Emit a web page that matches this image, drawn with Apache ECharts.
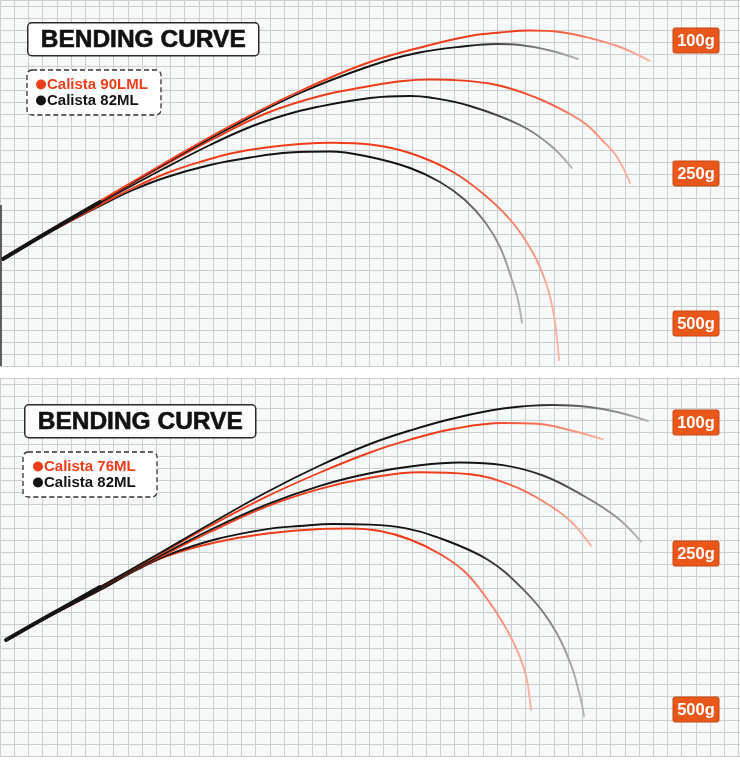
<!DOCTYPE html>
<html><head><meta charset="utf-8">
<script src="https://cdn.jsdelivr.net/npm/echarts@6/dist/echarts.min.js"></script>
<style>html,body{margin:0;padding:0;background:#fff}#c{width:740px;height:766px}</style>
</head><body><div id="c"></div><script>
// Units: horizontal distance / height (px-scale units of the grid paper)
// ---- Top panel: Calista 90LML (red) vs Calista 82ML (black)
const top90_100 = [[3,108],[50,136],[100,165],[163,202],[230,240],[300,275],[370,304],[430,321],[470,330],[500,333.5],[530,335.5],[560,334],[590,328],[620,319],[650,305]];
const top82_100 = [[3,107],[50,135],[100,164],[163,201],[230,238],[300,273],[370,300],[417,313],[467,320],[497,322],[520,321],[550,315.5],[578,307]];
const top90_250 = [[3,107],[50,135],[100,164],[163,200],[215,228],[267,253],[320,270],[370,280],[403,285],[430,286.5],[453,286],[497,281],[537,268],[570,252],[587,241],[602,226],[617,209],[630,183]];
const top82_250 = [[3,107],[50,135],[100,163],[163,197],[210,221],[250,239],[285,251],[317,259],[370,268],[410,270],[430,268.5],[470,260],[520,241],[550,221],[572,198]];
const top90_500 = [[3,107],[50,134],[100,161],[133,178],[167,193],[200,204],[233,213],[266,218.5],[300,222],[333,223.3],[370,221.5],[410,213],[453,194],[487,169],[513,143],[533,113],[545,86],[552,61],[556,36],[559,6]];
const top82_500 = [[3,107],[50,134],[100,160],[133,176],[167,189],[210,201],[250,208.5],[290,213.5],[330,214.5],[370,209],[410,198],[440,184],[465,166],[485,144],[500,119],[512,86],[518,66],[522,43]];
// ---- Bottom panel: Calista 76ML (red) vs Calista 82ML (black)
const bot82_100 = [[6,116],[50,141],[100,169],[160,203],[210,232],[267,264],[320,290.5],[370,312],[410,325.5],[453,337.5],[503,347.5],[553,351],[587,349.3],[617,344],[648,335]];
const bot76_100 = [[6,116],[50,141],[100,169],[160,202],[210,230],[267,259.6],[320,283.5],[370,303.5],[410,316.3],[453,327],[503,333],[537,332.3],[573,325],[603,316.6]];
const bot82_250 = [[6,116],[50,141],[100,168],[160,200],[210,226],[267,251.6],[320,270.2],[370,282.7],[420,290.7],[460,293.5],[503,290.9],[543,280.5],[583,260.5],[617,238.4],[641,214.4]];
const bot76_250 = [[6,116],[50,141],[100,168],[160,199],[210,224],[267,249.7],[320,267.2],[370,278.2],[420,283.7],[470,281.7],[510,271.3],[543,254.8],[570,235.4],[591,210.2]];
const bot82_500 = [[6,116],[50,140],[100,166],[135,185.3],[167,200.7],[215,216.5],[267,226.9],[300,230],[333,232],[370,231.4],[405,227.9],[437,218.9],[487,196.7],[523,166.8],[550,133.9],[570,93.9],[580,59.9],[584,40]];
const bot76_500 = [[6,116],[50,140],[100,166],[135,185.5],[167,200],[215,213.5],[267,222.5],[320,227],[350,227.5],[380,225],[410,216.5],[440,202],[465,184],[485,160],[503,133],[517,106],[526,80],[531,46]];

const loadLabels = ['100g','250g','500g'];
const topNames = ['Calista 90LML','Calista 82ML'];
const botNames = ['Calista 76ML','Calista 82ML'];
const titleText = 'BENDING CURVE';

const RED = '#ef3d1c', RED_FADE = '#f9b8a6', BLACK = '#141414', BLACK_FADE = '#b8b8b8';
const FONT = '"Liberation Sans", Arial, sans-serif';

const chart = echarts.init(document.getElementById('c'));

function curve(name, data, grid, color, fade){
  return {
    type:'line', name, data, xAxisIndex:grid, yAxisIndex:grid,
    smooth:0.4, symbol:'none', silent:true,
    itemStyle:{color},
    lineStyle:{width:1.9, cap:'round',
      color:new echarts.graphic.LinearGradient(0,0,1,0,[{offset:0,color:color},{offset:0.8,color:color},{offset:1,color:fade}])}
  };
}
function butt(data, grid){
  return {type:'line', name:'butt', data:data.filter(p=>p[0]<=110), xAxisIndex:grid, yAxisIndex:grid,
    smooth:0.4, symbol:'none', silent:true, lineStyle:{width:4, color:BLACK, cap:'round'}};
}

const splitStyle = {show:true, lineStyle:{color:'#cacece', width:1}};
function xAx(gi){return {type:'value', gridIndex:gi, min:0, max:740, interval:14.2,
  axisLine:{show:false}, axisTick:{show:false}, axisLabel:{show:false}, splitLine:splitStyle};}
function yAx(gi,max){return {type:'value', gridIndex:gi, min:0, max:max, interval:12,
  axisLine:{show:false}, axisTick:{show:false}, axisLabel:{show:false}, splitLine:splitStyle};}

function titleBox(x,y){
  return {type:'group', left:x, top:y, z:100, children:[
    {type:'rect', z:100, shape:{x:0,y:0,width:231,height:33,r:4}, style:{fill:'#fff', stroke:'#2a2a2a', lineWidth:1.5}},
    {type:'text', z:101, x:115.5, y:17, style:{text:titleText, fill:'#111', font:'bold 24.5px '+FONT, textAlign:'center', textVerticalAlign:'middle', stroke:'#111', lineWidth:0.6}}
  ]};
}
function legendBox(x,y){
  return {type:'rect', z:100, shape:{x:x,y:y,width:134,height:45,r:5}, style:{fill:'#fff', stroke:'#333', lineWidth:1.3, lineDash:[5,3]}};
}
function tag(text,x,y){
  return {type:'group', x:x, y:y, z:100, children:[
    {type:'rect', z:100, shape:{x:0,y:0,width:46,height:25,r:2}, style:{fill:'#e9571b', stroke:'#c84815', lineWidth:1}},
    {type:'text', z:101, x:23, y:13, style:{text:text, fill:'#fff', font:'bold 16.5px '+FONT, textAlign:'center', textVerticalAlign:'middle'}}
  ]};
}

const topTagY = [28,161,311], botTagY = [410,541,697];

function legendOf(names, left, top){
  return {orient:'vertical', left:left, top:top, z:200, padding:0, icon:'circle', itemWidth:10, itemHeight:10, itemGap:1, selectedMode:false,
     textStyle:{fontFamily:FONT, fontWeight:'bold', fontSize:15, padding:[0,0,0,-4]},
     data:[{name:names[0], itemStyle:{color:RED}, textStyle:{color:RED}},
           {name:names[1], itemStyle:{color:BLACK}, textStyle:{color:BLACK}}]};
}

const option = {
  animation:false,
  backgroundColor:'#ffffff',
  grid:[
    {left:0, top:0, width:740, height:366, show:true, backgroundColor:'#f7f9f9', borderWidth:0},
    {left:0, top:378, width:740, height:378, show:true, backgroundColor:'#f7f9f9', borderWidth:0}
  ],
  xAxis:[xAx(0), xAx(1)],
  yAxis:[yAx(0,366), yAx(1,378)],
  legend:[legendOf(topNames, 36, 77), legendOf(botNames, 33, 459)],
  series:[
    curve(topNames[1], top82_500, 0, BLACK, BLACK_FADE),
    curve(topNames[0], top90_500, 0, RED, RED_FADE),
    curve(topNames[1], top82_250, 0, BLACK, BLACK_FADE),
    curve(topNames[0], top90_250, 0, RED, RED_FADE),
    curve(topNames[1], top82_100, 0, BLACK, BLACK_FADE),
    curve(topNames[0], top90_100, 0, RED, RED_FADE),
    butt(top82_100, 0),
    curve(botNames[0], bot76_500, 1, RED, RED_FADE),
    curve(botNames[1], bot82_500, 1, BLACK, BLACK_FADE),
    curve(botNames[0], bot76_250, 1, RED, RED_FADE),
    curve(botNames[1], bot82_250, 1, BLACK, BLACK_FADE),
    curve(botNames[0], bot76_100, 1, RED, RED_FADE),
    curve(botNames[1], bot82_100, 1, BLACK, BLACK_FADE),
    butt(bot82_100, 1)
  ],
  graphic:[
    {type:'line', z:50, shape:{x1:1,y1:205,x2:1,y2:366}, style:{stroke:'#333', lineWidth:1.5}},
    titleBox(27,22), legendBox(27,70),
    titleBox(24,404), legendBox(23,452),
    ...loadLabels.map((t,i)=>tag(t,673,topTagY[i])),
    ...loadLabels.map((t,i)=>tag(t,673,botTagY[i]))
  ]
};
chart.setOption(option);
</script></body></html>
